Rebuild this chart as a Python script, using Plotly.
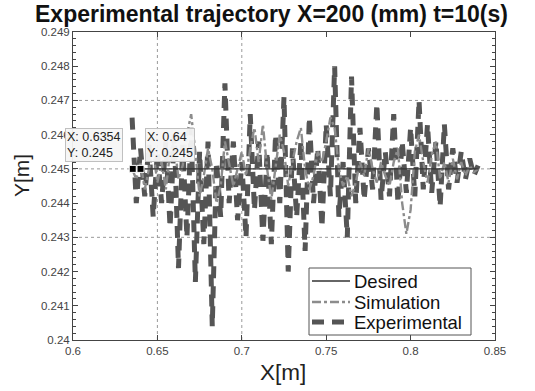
import plotly.graph_objects as go

# ---------------- data ----------------
x_ticks = [0.6, 0.65, 0.7, 0.75, 0.8, 0.85]
x_tick_labels = ["0.6", "0.65", "0.7", "0.75", "0.8", "0.85"]
y_ticks = [0.24, 0.241, 0.242, 0.243, 0.244, 0.245, 0.246, 0.247, 0.248, 0.249]
y_tick_labels = ["0.24", "0.241", "0.242", "0.243", "0.244", "0.245", "0.246", "0.247", "0.248", "0.249"]

series_names = ["Desired", "Simulation", "Experimental"]

desired_x = [0.635, 0.840]
desired_y = [0.245, 0.245]

sample_x = [0.6350, 0.6375, 0.6400, 0.6425, 0.6450, 0.6475, 0.6500, 0.6525, 0.6550, 0.6575,
            0.6600, 0.6625, 0.6650, 0.6675, 0.6700, 0.6725, 0.6750, 0.6775, 0.6800, 0.6825,
            0.6850, 0.6875, 0.6900, 0.6925, 0.6950, 0.6975, 0.7000, 0.7025, 0.7050, 0.7075,
            0.7100, 0.7125, 0.7150, 0.7175, 0.7200, 0.7225, 0.7250, 0.7275, 0.7300, 0.7325,
            0.7350, 0.7375, 0.7400, 0.7425, 0.7450, 0.7475, 0.7500, 0.7525, 0.7550, 0.7575,
            0.7600, 0.7625, 0.7650, 0.7675, 0.7700, 0.7725, 0.7750, 0.7775, 0.7800, 0.7825,
            0.7850, 0.7875, 0.7900, 0.7925, 0.7950, 0.7975, 0.8000, 0.8025, 0.8050, 0.8075,
            0.8100, 0.8125, 0.8150, 0.8175, 0.8200, 0.8225, 0.8250, 0.8275, 0.8300, 0.8325,
            0.8350, 0.8375, 0.8400]

simulation_y = [0.2450, 0.2447, 0.2452, 0.2444, 0.2450, 0.2455, 0.2446, 0.2452, 0.2444, 0.2455,
                0.2458, 0.2447, 0.2451, 0.2460, 0.2466, 0.2455, 0.2442, 0.2448, 0.2456, 0.2450,
                0.2440, 0.2445, 0.2458, 0.2452, 0.2445, 0.2450, 0.2455, 0.2448, 0.2456, 0.2462,
                0.2452, 0.2463, 0.2450, 0.2441, 0.2450, 0.2460, 0.2455, 0.2445, 0.2452, 0.2458,
                0.2462, 0.2450, 0.2444, 0.2448, 0.2455, 0.2452, 0.2458, 0.2465, 0.2462, 0.2450,
                0.2445, 0.2448, 0.2442, 0.2446, 0.2452, 0.2448, 0.2456, 0.2450, 0.2446, 0.2452,
                0.2448, 0.2445, 0.2452, 0.2456, 0.2440, 0.2431, 0.2438, 0.2455, 0.2460, 0.2452,
                0.2446, 0.2454, 0.2458, 0.2447, 0.2452, 0.2446, 0.2453, 0.2447, 0.2452, 0.2448,
                0.2451, 0.2449, 0.2450]

experimental_y = [0.2465, 0.2440, 0.2456, 0.2442, 0.2457, 0.2436, 0.2455, 0.2440, 0.2458, 0.2433,
                  0.2460, 0.2421, 0.2457, 0.2430, 0.2462, 0.2417, 0.2455, 0.2428, 0.2458, 0.2404,
                  0.2452, 0.2436, 0.2475, 0.2440, 0.2458, 0.2435, 0.2452, 0.2430, 0.2466, 0.2438,
                  0.2458, 0.2429, 0.2455, 0.2428, 0.2460, 0.2440, 0.2471, 0.2420, 0.2456, 0.2436,
                  0.2458, 0.2426, 0.2465, 0.2440, 0.2456, 0.2433, 0.2463, 0.2442, 0.2480, 0.2436,
                  0.2452, 0.2430, 0.2477, 0.2440, 0.2462, 0.2441, 0.2456, 0.2444, 0.2469, 0.2441,
                  0.2455, 0.2442, 0.2466, 0.2440, 0.2458, 0.2443, 0.2462, 0.2442, 0.2470, 0.2444,
                  0.2463, 0.2443, 0.2458, 0.2439, 0.2463, 0.2444, 0.2456, 0.2446, 0.2455, 0.2447,
                  0.2453, 0.2448, 0.2451]

tip_x = [0.6354, 0.64]
tip_y = [0.245, 0.245]
tip_texts = ["X: 0.6354<br>Y: 0.245", "X: 0.64<br>Y: 0.245"]

grid_x = [0.65, 0.7]
grid_y = [0.243, 0.245, 0.247]

# ---------------- layout helpers (pixel -> plot-domain paper coords) ----------------
W, H = 535, 391
L, R, T, B = 73, 40, 32, 51
PW, PH = W - L - R, H - T - B


def px(xp):
    return (xp - L) / PW


def py(yp):
    return (H - B - yp) / PH


FONT = "Liberation Sans, Arial, sans-serif"
DES_LINE = dict(color="#333333", width=1.3)
SIM_LINE = dict(color="#8c8c8c", width=2.4, dash="dashdot")
EXP_LINE = dict(color="#555555", width=5, dash="12px,8px")

fig = go.Figure()

fig.add_trace(go.Scatter(x=sample_x, y=experimental_y, mode="lines", name=series_names[2],
                         line=EXP_LINE))
fig.add_trace(go.Scatter(x=sample_x, y=simulation_y, mode="lines", name=series_names[1],
                         line=SIM_LINE))
fig.add_trace(go.Scatter(x=desired_x, y=desired_y, mode="lines", name=series_names[0],
                         line=DES_LINE))
fig.add_trace(go.Scatter(x=tip_x, y=tip_y, mode="markers",
                         marker=dict(symbol="square", size=7, color="black",
                                     line=dict(color="white", width=1))))

for gx in grid_x:
    fig.add_shape(type="line", x0=gx, x1=gx, y0=0.24, y1=0.249, xref="x", yref="y",
                  line=dict(color="#9a9a9a", width=1, dash="dot"), layer="below")
for gy in grid_y:
    fig.add_shape(type="line", x0=0.6, x1=0.85, y0=gy, y1=gy, xref="x", yref="y",
                  line=dict(color="#9a9a9a", width=1, dash="dot"), layer="below")

# data tips
tip_boxes = [(65, 162), (145, 162)]
for (bx, by), txt in zip(tip_boxes, tip_texts):
    fig.add_annotation(x=px(bx), y=py(by), xref="paper", yref="paper", text=txt,
                       showarrow=False, xanchor="left", yanchor="bottom", align="left",
                       font=dict(family=FONT, size=12.5, color="#222"),
                       bgcolor="rgba(246,246,246,0.95)", bordercolor="#c0c0c0",
                       borderwidth=1, borderpad=1)

# legend (drawn manually for a compact box)
fig.add_shape(type="rect", x0=px(309), x1=px(471), y0=py(335), y1=py(268),
              xref="paper", yref="paper", line=dict(color="#555", width=1),
              fillcolor="white", layer="above")
legend_rows = [281, 302, 322]
legend_styles = [DES_LINE, SIM_LINE, EXP_LINE]
for name, row, style in zip(series_names, legend_rows, legend_styles):
    fig.add_shape(type="line", x0=px(312), x1=px(350), y0=py(row), y1=py(row),
                  xref="paper", yref="paper", line=style, layer="above")
    fig.add_annotation(x=px(352), y=py(row), xref="paper", yref="paper", text=name,
                       showarrow=False, xanchor="left", yanchor="middle",
                       font=dict(family=FONT, size=18.5, color="#111"))

# axis titles
fig.add_annotation(x=px(283), y=py(372), xref="paper", yref="paper",
                   text="X[m]", showarrow=False, xanchor="center", yanchor="middle",
                   font=dict(family=FONT, size=22.5, color="#222"))
fig.add_annotation(x=px(21), y=py(176), xref="paper", yref="paper",
                   text="Y[m]", showarrow=False, xanchor="center", yanchor="middle",
                   textangle=-90, font=dict(family=FONT, size=21, color="#222"))

axis_common = dict(showline=True, mirror="ticks", linecolor="#444", linewidth=1,
                   ticks="inside", tickcolor="#444", ticklen=5, showgrid=False,
                   zeroline=False, automargin=False,
                   tickfont=dict(family=FONT, size=11.5, color="#444"))

fig.update_xaxes(range=[0.6, 0.85], tickmode="array", tickvals=x_ticks,
                 ticktext=x_tick_labels, **axis_common)
fig.update_yaxes(range=[0.24, 0.249], tickmode="array", tickvals=y_ticks,
                 ticktext=y_tick_labels,
                 minor=dict(tickmode="linear", tick0=0.24, dtick=0.0002, ticks="inside",
                            ticklen=3, tickcolor="#444"),
                 **axis_common)

fig.update_layout(
    width=W, height=H,
    margin=dict(l=L, r=R, t=T, b=B, autoexpand=False),
    paper_bgcolor="white", plot_bgcolor="white",
    showlegend=False,
    title=dict(text="<b>Experimental trajectory X=200 (mm) t=10(s)</b>",
               x=271.5 / W, xanchor="center", xref="container",
               y=1 - 14 / H, yanchor="middle", yref="container",
               font=dict(family=FONT, size=23, color="#111")),
)

fig.write_html("out.html", config={"displayModeBar": False},
               post_script="document.body.style.margin='0px';document.body.style.padding='0px';")
